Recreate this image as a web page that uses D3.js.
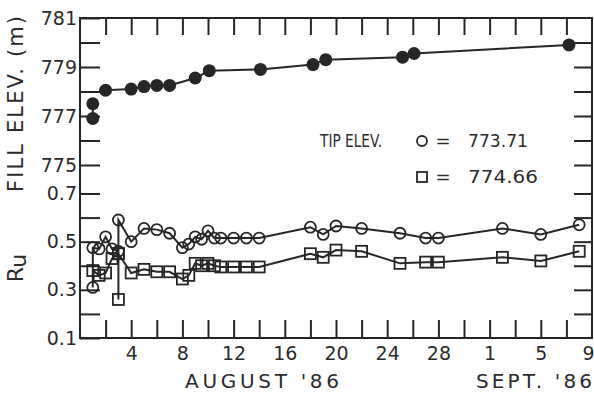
<!DOCTYPE html>
<html>
<head>
<meta charset="utf-8">
<script src="https://cdn.jsdelivr.net/npm/d3@7"></script>
<style>
  body { margin: 0; background: #fff; }
  text { font-family: "DejaVu Sans", sans-serif; font-weight: 400; fill: #2b2b2b; }
</style>
</head>
<body>
<div id="chart"></div>
<script>
// fill elevation (filled dots)
var fillDay  = [1, 1, 2, 4, 5, 6, 7, 9, 10.1, 14.1, 18.2, 19.2, 25.2, 26.1, 38.2];
var fillElev = [776.9, 777.5, 778.05, 778.1, 778.2, 778.25, 778.25, 778.55, 778.85, 778.9, 779.1, 779.3, 779.4, 779.55, 779.9];

// Ru, tip elev 773.71 (circles)
var cDay = [1, 1, 1.5, 2, 2.5, 3, 3, 4, 5, 6, 7, 8, 8.5, 9, 9.5, 10, 10.5, 11, 12, 13, 14, 18, 19, 20, 22, 25, 27, 28, 33, 36, 39];
var cRu  = [0.31, 0.475, 0.47, 0.52, 0.47, 0.46, 0.59, 0.50, 0.555, 0.55, 0.535, 0.475, 0.49, 0.52, 0.51, 0.545, 0.515, 0.515, 0.515, 0.515, 0.515, 0.56, 0.53, 0.565, 0.555, 0.535, 0.515, 0.515, 0.555, 0.53, 0.57];

// Ru, tip elev 774.66 (squares)
var sDay = [1, 1.5, 2, 2.5, 3, 3, 3, 4, 5, 6, 7, 8, 8.5, 9, 9.5, 10, 10.5, 11, 12, 13, 14, 18, 19, 20, 22, 25, 27, 28, 33, 36, 39];
var sRu  = [0.38, 0.36, 0.37, 0.43, 0.45, 0.26, 0.45, 0.37, 0.385, 0.375, 0.375, 0.345, 0.36, 0.41, 0.40, 0.41, 0.40, 0.395, 0.395, 0.395, 0.395, 0.45, 0.435, 0.465, 0.46, 0.41, 0.415, 0.415, 0.435, 0.42, 0.46];

var elevTicks = [775, 776, 777, 778, 779, 780, 781];
var ruTicks = [0.1, 0.2, 0.3, 0.4, 0.5, 0.6, 0.7];
var dayTicks = d3.range(2, 40, 2);
var dayLabels = {4: "4", 8: "8", 12: "12", 16: "16", 20: "20", 24: "24", 28: "28", 32: "1", 36: "5", 40: "9"};

function draw() {
    var w = 594, h = 396;
    var left = 80, right = 592, y0 = 18, y1 = 338;
    var ink = "#262626";

    var x = d3.scaleLinear().domain([0, 40]).range([left, right]);
    var yE = d3.scaleLinear().domain([775, 781]).range([165, y0]);
    var yR = d3.scaleLinear().domain([0.1, 0.7]).range([y1, 193.5]);

    var svg = d3.select("#chart").append("svg")
        .attr("width", w).attr("height", h);

    // frame
    svg.append("rect")
        .attr("x", left).attr("y", y0).attr("width", right - left).attr("height", y1 - y0)
        .attr("fill", "none").attr("stroke", ink).attr("stroke-width", 2);

    function styleAxis(g) {
        g.select(".domain").remove();
        g.selectAll("line").attr("stroke", ink).attr("stroke-width", 2);
        g.selectAll("text").attr("font-size", "19px").attr("fill", ink).attr("font-family", null);
    }

    // left axes
    svg.append("g").attr("transform", "translate(" + left + ",0)")
        .call(d3.axisLeft(yE).tickValues(elevTicks).tickSize(-20).tickPadding(3)
            .tickFormat(function(d) { return d % 2 == 1 ? d : ""; }))
        .call(styleAxis);
    svg.append("g").attr("transform", "translate(" + left + ",0)")
        .call(d3.axisLeft(yR).tickValues(ruTicks).tickSize(-20).tickPadding(3)
            .tickFormat(function(d, i) { return i % 2 == 0 ? d3.format(".1f")(d) : ""; }))
        .call(styleAxis);

    // right ticks
    svg.append("g").attr("transform", "translate(" + right + ",0)")
        .call(d3.axisRight(yE).tickValues(elevTicks.slice(0, 6)).tickSize(-18).tickFormat(""))
        .call(styleAxis);
    svg.append("g").attr("transform", "translate(" + right + ",0)")
        .call(d3.axisRight(yR).tickValues(ruTicks.slice(1)).tickSize(-18).tickFormat(""))
        .call(styleAxis);

    // top ticks
    svg.append("g").attr("transform", "translate(0," + y0 + ")")
        .call(d3.axisTop(x).tickValues(dayTicks).tickSize(-17).tickFormat(""))
        .call(styleAxis);

    // bottom ticks + labels
    var bx = svg.append("g").attr("transform", "translate(0," + y1 + ")")
        .call(d3.axisBottom(x).tickValues(dayTicks.concat([40])).tickSize(-18).tickPadding(9)
            .tickFormat(function(d) { return dayLabels[d] || ""; }))
        .call(styleAxis);
    var lastTick = bx.selectAll(".tick").filter(function(d) { return d == 40; });
    lastTick.select("line").remove();
    lastTick.select("text").attr("text-anchor", "end").attr("x", 2);

    // fill elevation line + dots
    var lineE = d3.line().x(function(d) { return x(d[0]); }).y(function(d) { return yE(d[1]); });
    var fillPts = d3.zip(fillDay, fillElev);
    svg.append("path").attr("d", lineE(fillPts.slice(0, 2)))
        .attr("fill", "none").attr("stroke", ink).attr("stroke-width", 2);
    svg.append("path").attr("d", lineE(fillPts.slice(2)))
        .attr("fill", "none").attr("stroke", ink).attr("stroke-width", 2);
    svg.selectAll(".fdot").data(fillPts).enter().append("circle")
        .attr("cx", function(d) { return x(d[0]); })
        .attr("cy", function(d) { return yE(d[1]); })
        .attr("r", 6.5).attr("fill", ink);

    // Ru lines
    var lineR = d3.line().x(function(d) { return x(d[0]); }).y(function(d) { return yR(d[1]); });
    var cPts = d3.zip(cDay, cRu);
    var sPts = d3.zip(sDay, sRu);
    svg.append("path").attr("d", lineR(cPts))
        .attr("fill", "none").attr("stroke", ink).attr("stroke-width", 2);
    svg.append("path").attr("d", lineR(sPts))
        .attr("fill", "none").attr("stroke", ink).attr("stroke-width", 2);

    svg.selectAll(".cdot").data(cPts).enter().append("circle")
        .attr("cx", function(d) { return x(d[0]); })
        .attr("cy", function(d) { return yR(d[1]); })
        .attr("r", 5.5).attr("fill", "none").attr("stroke", ink).attr("stroke-width", 1.8);
    svg.selectAll(".sdot").data(sPts).enter().append("rect")
        .attr("x", function(d) { return x(d[0]) - 5.5; })
        .attr("y", function(d) { return yR(d[1]) - 5.5; })
        .attr("width", 11).attr("height", 11)
        .attr("fill", "none").attr("stroke", ink).attr("stroke-width", 1.8);

    // axis titles
    svg.append("text")
        .attr("transform", "translate(23,104) rotate(-90)")
        .attr("text-anchor", "middle").attr("font-size", "21px")
        .attr("textLength", 176).attr("lengthAdjust", "spacing")
        .text("FILL ELEV. (m)");
    var ru = svg.append("text")
        .attr("transform", "translate(23,268) rotate(-90)")
        .attr("text-anchor", "middle").attr("font-size", "22px");
    ru.append("tspan").text("R");
    ru.append("tspan").attr("dy", 3).text("u");

    svg.append("text").attr("x", 262).attr("y", 388).attr("text-anchor", "middle")
        .attr("font-size", "20px").attr("textLength", 154).attr("lengthAdjust", "spacing")
        .text("AUGUST '86");
    svg.append("text").attr("x", 534).attr("y", 388).attr("text-anchor", "middle")
        .attr("font-size", "20px").attr("textLength", 116).attr("lengthAdjust", "spacing")
        .text("SEPT. '86");

    // legend
    svg.append("text").attr("x", 320).attr("y", 147).attr("font-size", "17px")
        .attr("textLength", 62).attr("lengthAdjust", "spacingAndGlyphs").text("TIP ELEV.");
    svg.append("circle").attr("cx", 422).attr("cy", 141).attr("r", 5)
        .attr("fill", "none").attr("stroke", ink).attr("stroke-width", 1.8);
    svg.append("rect").attr("x", 417).attr("y", 172).attr("width", 10).attr("height", 10)
        .attr("fill", "none").attr("stroke", ink).attr("stroke-width", 1.8);
    svg.append("text").attr("x", 443).attr("y", 147).attr("font-size", "18px").attr("text-anchor", "middle").text("=");
    svg.append("text").attr("x", 443).attr("y", 183).attr("font-size", "18px").attr("text-anchor", "middle").text("=");
    svg.append("text").attr("x", 468).attr("y", 147).attr("font-size", "18px")
        .attr("textLength", 60).attr("lengthAdjust", "spacingAndGlyphs").text("773.71");
    svg.append("text").attr("x", 468).attr("y", 183).attr("font-size", "18px")
        .attr("textLength", 70).attr("lengthAdjust", "spacingAndGlyphs").text("774.66");
}
window.onload = draw;
</script>
</body>
</html>
